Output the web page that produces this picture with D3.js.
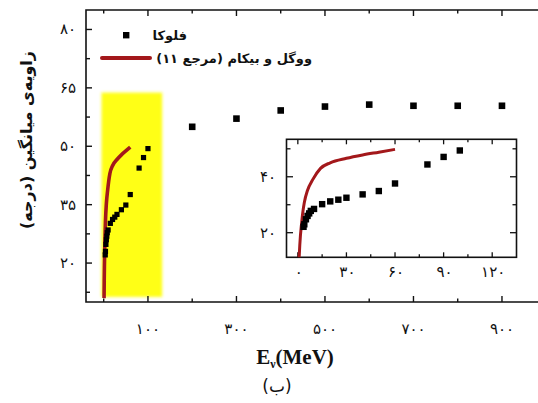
<!DOCTYPE html>
<html>
<head>
<meta charset="utf-8">
<script src="https://cdn.jsdelivr.net/npm/d3@7"></script>
<style>
  html, body { margin: 0; padding: 0; background: #fff; }
  svg { display: block; }
  .fa { font-family: "DejaVu Sans", sans-serif; }
</style>
</head>
<body>
<svg id="chart" width="538" height="403"></svg>
<script>
// FLUKA simulation: mean angle (degrees) versus neutrino energy (MeV)
const flukaEnergy = [3.5, 4, 5, 6, 7, 8, 10, 15, 20, 25, 30, 40, 50, 60, 80, 90, 100, 200, 300, 400, 500, 600, 700, 800, 900];
const flukaAngle  = [22.1, 23, 24.8, 26, 26.9, 27.8, 28.5, 30.2, 31.2, 31.8, 32.5, 33.7, 34.9, 37.6, 44.4, 47.1, 49.4, 55.0, 57.1, 59.2, 60.2, 60.7, 60.4, 60.4, 60.4];

// Vogel & Beacom (ref. 11) curve
const vbEnergy = [0.8, 1.2, 1.6, 2, 3, 4, 6, 9, 14, 20, 30, 40, 50, 60];
const vbAngle  = [11.0, 15.5, 19, 21.5, 27, 30.8, 35.2, 38.8, 43, 45, 46.6, 47.8, 48.8, 49.8];

// Axis ticks and labels
const mainXTicks = [0, 100, 200, 300, 400, 500, 600, 700, 800, 900];
const mainXLabels = [100, 300, 500, 700, 900];
const mainYMajor = [20, 35, 50, 65, 80];
const mainYMinor = [12.5, 27.5, 42.5, 57.5, 72.5];
const insetXTicks = [0, 15, 30, 45, 60, 75, 90, 105, 120];
const insetXLabels = [0, 30, 60, 90, 120];
const insetYMajor = [20, 40];
const insetYMinor = [30, 50];

// Highlighted low-energy band (energy range, angle range)
const bandEnergy = [-5, 132];
const bandAngle = [11.3, 63.8];

// Text
const yTitle = "زاویه\u200cی میانگین (درجه)";
const legendFluka = "فلوکا";
const legendVB = "ووگل و بیکام (مرجع ۱۱)";
const panelLabel = "(ب)";

const fa = n => String(n).replace(/\d/g, d => "۰۱۲۳۴۵۶۷۸۹"[+d]);

const svg = d3.select("#chart");
const darkRed = "#a3181b";

// ---- main panel ----
const x = d3.scaleLinear().domain([-40, 990]).range([86, 541.8]);
const y = d3.scaleLinear().domain([10, 85]).range([302, 10]);

const defs = svg.append("defs");
defs.append("filter").attr("id", "soft").attr("x", "-10%").attr("y", "-10%").attr("width", "120%").attr("height", "120%")
  .append("feGaussianBlur").attr("stdDeviation", 1.6);
defs.append("clipPath").attr("id", "mainClip").append("rect")
  .attr("x", 86).attr("y", 10).attr("width", 456).attr("height", 292);

// yellow band
svg.append("rect")
  .attr("x", x(bandEnergy[0])).attr("width", x(bandEnergy[1]) - x(bandEnergy[0]))
  .attr("y", y(bandAngle[1])).attr("height", y(bandAngle[0]) - y(bandAngle[1]))
  .attr("fill", "#ffff14").attr("filter", "url(#soft)");

// frame
svg.append("path")
  .attr("d", `M${x(990) + 2},10 H86 V302 H${x(990) + 2}`)
  .attr("fill", "none").attr("stroke", "#111").attr("stroke-width", 1.6);

// ticks
const ticks = svg.append("g").attr("stroke", "#111").attr("stroke-width", 1.4);
mainXTicks.forEach(v => {
  const len = mainXLabels.includes(v) ? 6 : 3.5;
  ticks.append("line").attr("x1", x(v)).attr("x2", x(v)).attr("y1", 302).attr("y2", 302 - len);
  ticks.append("line").attr("x1", x(v)).attr("x2", x(v)).attr("y1", 10).attr("y2", 10 + len);
});
mainYMajor.forEach(v => {
  ticks.append("line").attr("x1", 86).attr("x2", 92).attr("y1", y(v)).attr("y2", y(v));
});
mainYMinor.forEach(v => {
  ticks.append("line").attr("x1", 86).attr("x2", 90).attr("y1", y(v)).attr("y2", y(v));
});

svg.append("g").selectAll("text").data(mainXLabels).join("text")
  .attr("class", "fa").attr("x", d => x(d)).attr("y", 334)
  .attr("text-anchor", "middle").attr("font-size", 15).attr("fill", "#111")
  .text(d => fa(d));
svg.append("g").selectAll("text").data(mainYMajor).join("text")
  .attr("class", "fa").attr("x", 76).attr("y", d => y(d) + 5)
  .attr("text-anchor", "end").attr("font-size", 15).attr("fill", "#111")
  .text(d => fa(d));

// main series
const mainLine = d3.line().x(d => x(d[0])).y(d => y(d[1])).curve(d3.curveMonotoneX);
svg.append("path")
  .datum(vbEnergy.map((e, i) => [e, vbAngle[i]]))
  .attr("clip-path", "url(#mainClip)")
  .attr("d", mainLine).attr("fill", "none").attr("stroke", darkRed).attr("stroke-width", 3.6);

svg.append("g").selectAll("rect").data(flukaEnergy.map((e, i) => [e, flukaAngle[i]])).join("rect")
  .attr("x", d => x(d[0]) - (d[0] < 150 ? 2.6 : 3.3))
  .attr("y", d => y(d[1]) - (d[0] < 150 ? 2.6 : 3.3))
  .attr("width", d => d[0] < 150 ? 5.2 : 6.6)
  .attr("height", d => d[0] < 150 ? 5.2 : 6.6)
  .attr("fill", "#000");

// ---- inset ----
const ix = d3.scaleLinear().domain([-7, 135]).range([286.5, 516.5]);
const iy = d3.scaleLinear().domain([11.2, 53.4]).range([257.3, 139.3]);
defs.append("clipPath").attr("id", "insetClip").append("rect")
  .attr("x", 286.5).attr("y", 139.3).attr("width", 230).attr("height", 118);

svg.append("rect").attr("x", 286.5).attr("y", 139.3).attr("width", 230).attr("height", 118)
  .attr("fill", "#fff").attr("stroke", "#111").attr("stroke-width", 1.6);

const it = svg.append("g").attr("stroke", "#111").attr("stroke-width", 1.3);
insetXTicks.forEach(v => {
  const len = insetXLabels.includes(v) ? 5 : 3;
  it.append("line").attr("x1", ix(v)).attr("x2", ix(v)).attr("y1", 257.3).attr("y2", 257.3 - len);
  it.append("line").attr("x1", ix(v)).attr("x2", ix(v)).attr("y1", 139.3).attr("y2", 139.3 + len);
});
insetYMajor.forEach(v => {
  it.append("line").attr("x1", 286.5).attr("x2", 293).attr("y1", iy(v)).attr("y2", iy(v));
  it.append("line").attr("x1", 516.5).attr("x2", 510).attr("y1", iy(v)).attr("y2", iy(v));
});
insetYMinor.forEach(v => {
  it.append("line").attr("x1", 286.5).attr("x2", 290.5).attr("y1", iy(v)).attr("y2", iy(v));
  it.append("line").attr("x1", 516.5).attr("x2", 512.5).attr("y1", iy(v)).attr("y2", iy(v));
});

svg.append("g").selectAll("text").data(insetXLabels).join("text")
  .attr("class", "fa").attr("x", d => ix(d) + 1).attr("y", 277)
  .attr("text-anchor", "middle").attr("font-size", 15).attr("fill", "#111")
  .text(d => fa(d));
svg.append("g").selectAll("text").data(insetYMajor).join("text")
  .attr("class", "fa").attr("x", 276).attr("y", d => iy(d) + 5)
  .attr("text-anchor", "end").attr("font-size", 15).attr("fill", "#111")
  .text(d => fa(d));

const insetLine = d3.line().x(d => ix(d[0])).y(d => iy(d[1])).curve(d3.curveMonotoneX);
const insetData = flukaEnergy.map((e, i) => [e, flukaAngle[i]]).filter(d => d[0] <= 130);
svg.append("path")
  .datum(vbEnergy.map((e, i) => [e, vbAngle[i]]))
  .attr("clip-path", "url(#insetClip)")
  .attr("d", insetLine).attr("fill", "none").attr("stroke", darkRed).attr("stroke-width", 3);
svg.append("g").selectAll("rect").data(insetData).join("rect")
  .attr("x", d => ix(d[0]) - 3.2).attr("y", d => iy(d[1]) - 3.2)
  .attr("width", 6.4).attr("height", 6.4).attr("fill", "#000");

// ---- legend ----
svg.append("rect").attr("x", 123).attr("y", 32).attr("width", 6.4).attr("height", 6.4).attr("fill", "#000");
svg.append("line").attr("x1", 102).attr("x2", 150).attr("y1", 58).attr("y2", 58)
  .attr("stroke", darkRed).attr("stroke-width", 4).attr("stroke-linecap", "round");
svg.append("text").attr("class", "fa").attr("x", 187).attr("y", 40)
  .attr("direction", "rtl").attr("text-anchor", "start")
  .attr("font-size", 13).attr("font-weight", "bold").attr("fill", "#111").text(legendFluka);
svg.append("text").attr("class", "fa").attr("x", 312).attr("y", 63)
  .attr("direction", "rtl").attr("text-anchor", "start")
  .attr("font-size", 13).attr("font-weight", "bold").attr("fill", "#111").text(legendVB);

// ---- titles ----
svg.append("text").attr("class", "fa")
  .attr("transform", `translate(32, 140) rotate(-90)`)
  .attr("direction", "rtl").attr("text-anchor", "middle")
  .attr("font-size", 16).attr("font-weight", "bold").attr("fill", "#111").text(yTitle);

const xt = svg.append("text").attr("x", 295).attr("y", 364)
  .attr("text-anchor", "middle").attr("font-family", "Liberation Serif, serif")
  .attr("font-size", 21).attr("font-weight", "bold").attr("fill", "#111");
xt.append("tspan").text("E");
xt.append("tspan").attr("font-size", 12).attr("dy", 4).text("ν");
xt.append("tspan").attr("dy", -4).text("(MeV)");

svg.append("text").attr("class", "fa").attr("x", 277).attr("y", 392)
  .attr("direction", "rtl").attr("text-anchor", "middle")
  .attr("font-size", 17).attr("fill", "#111").text(panelLabel);
</script>
</body>
</html>
